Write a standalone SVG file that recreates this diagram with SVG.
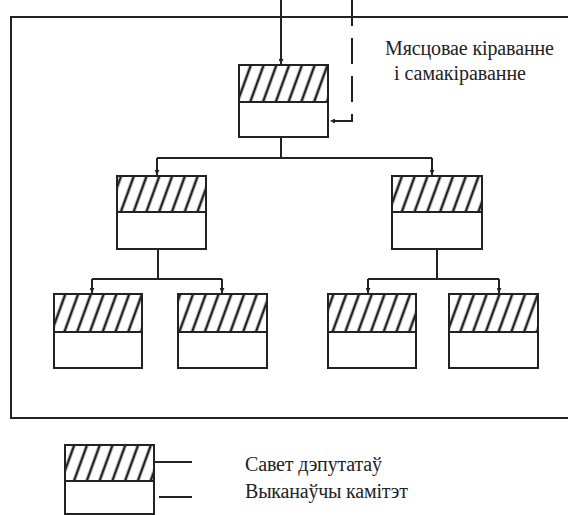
<svg xmlns="http://www.w3.org/2000/svg" width="568" height="515" viewBox="0 0 568 515">
<style>
.box{fill:#fff;stroke:#222;stroke-width:2}
.hatch{fill:url(#h);stroke:#222;stroke-width:2}
.ln{fill:none;stroke:#222;stroke-width:2}
.t{font-family:"Liberation Serif","Times New Roman","DejaVu Serif",serif;font-size:20px;fill:#222}
</style>
<defs>
<pattern id="h" patternUnits="userSpaceOnUse" width="12" height="12" patternTransform="rotate(20)">
<rect width="12" height="12" fill="#fff"/>
<line x1="6" y1="-2" x2="6" y2="14" stroke="#222" stroke-width="2.6"/>
</pattern>
<marker id="a" viewBox="0 0 10 10" refX="10" refY="5" markerWidth="5" markerHeight="5" orient="auto" markerUnits="userSpaceOnUse">
<path d="M0,0 L10,5 L0,10 z" fill="#222"/>
</marker>
</defs>
<rect width="568" height="515" fill="#fff"/>
<path class="ln" d="M568,17 H11 V418 H568"/>
<g id="connectors">
<line class="ln" x1="281" y1="0" x2="281" y2="64" marker-end="url(#a)"/>
<path class="ln" d="M352,0 V121 H330" stroke-dasharray="26 12" marker-end="url(#a)"/>
<path class="ln" d="M281,137 V158"/>
<path class="ln" d="M157,158 H432"/>
<line class="ln" x1="157" y1="158" x2="157" y2="175" marker-end="url(#a)"/>
<line class="ln" x1="432" y1="158" x2="432" y2="175" marker-end="url(#a)"/>
<path class="ln" d="M158,249 V279"/>
<path class="ln" d="M92,279 H222"/>
<line class="ln" x1="92" y1="279" x2="92" y2="293" marker-end="url(#a)"/>
<line class="ln" x1="222" y1="279" x2="222" y2="293" marker-end="url(#a)"/>
<path class="ln" d="M437,249 V279"/>
<path class="ln" d="M368,279 H499"/>
<line class="ln" x1="368" y1="279" x2="368" y2="293" marker-end="url(#a)"/>
<line class="ln" x1="499" y1="279" x2="499" y2="293" marker-end="url(#a)"/>
</g>
<g id="n0"><rect class="hatch" x="239" y="65" width="89" height="37"/><rect class="box" x="239" y="102" width="89" height="35"/></g>
<g id="n1"><rect class="hatch" x="117" y="176" width="89" height="36"/><rect class="box" x="117" y="212" width="89" height="37"/></g>
<g id="n2"><rect class="hatch" x="392" y="176" width="90" height="36"/><rect class="box" x="392" y="212" width="90" height="37"/></g>
<g id="n3"><rect class="hatch" x="54" y="294" width="88" height="38"/><rect class="box" x="54" y="332" width="88" height="36"/></g>
<g id="n4"><rect class="hatch" x="178" y="294" width="89" height="38"/><rect class="box" x="178" y="332" width="89" height="36"/></g>
<g id="n5"><rect class="hatch" x="328" y="294" width="88" height="38"/><rect class="box" x="328" y="332" width="88" height="36"/></g>
<g id="n6"><rect class="hatch" x="449" y="294" width="89" height="38"/><rect class="box" x="449" y="332" width="89" height="36"/></g>
<g id="title">
<text class="t" x="385" y="55" textLength="169" lengthAdjust="spacing">Мясцовае кіраванне</text>
<text class="t" x="394" y="80" textLength="132" lengthAdjust="spacing">і самакіраванне</text>
</g>
<g id="legend">
<rect class="hatch" x="65" y="445" width="89" height="36"/>
<rect class="box" x="65" y="481" width="89" height="33"/>
<line class="ln" x1="154" y1="462" x2="192" y2="462"/>
<line class="ln" x1="159" y1="497" x2="192" y2="497"/>
<text class="t" x="245" y="471" textLength="137" lengthAdjust="spacing">Савет дэпутатаў</text>
<text class="t" x="245" y="498" textLength="163" lengthAdjust="spacing">Выканаўчы камітэт</text>
</g>
</svg>
